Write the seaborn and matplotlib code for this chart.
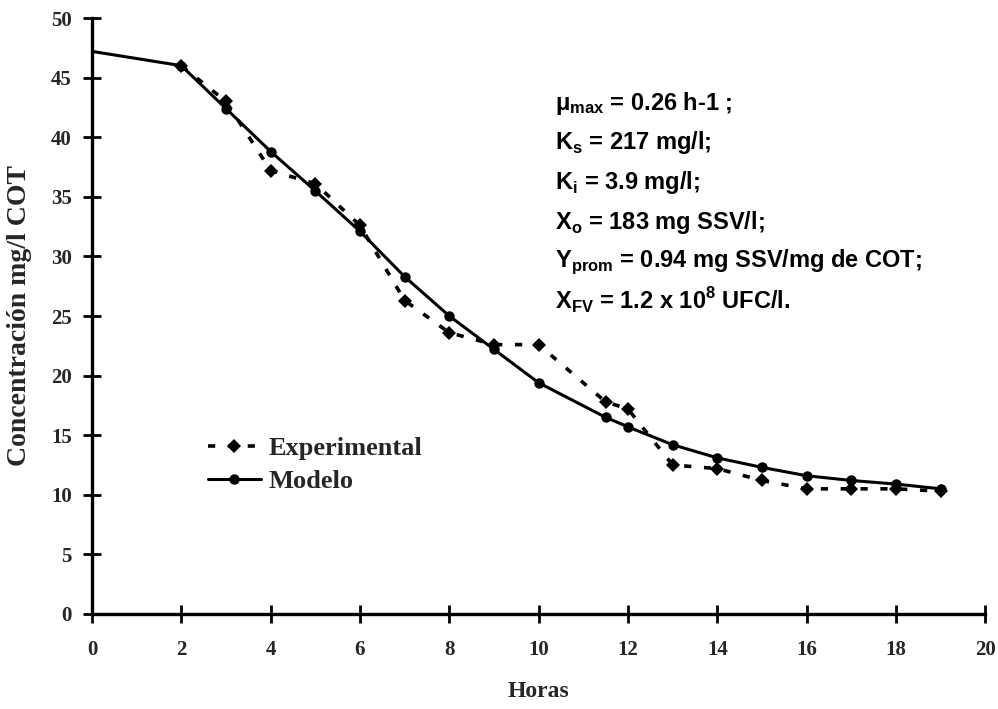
import matplotlib
matplotlib.use("Agg")
import matplotlib.pyplot as plt
import seaborn as sns
import pandas as pd

# ---- data ----
horas_modelo = [0, 2, 3, 4, 5, 6, 7, 8, 9, 10, 11.5, 12, 13, 14, 15, 16, 17, 18, 19]
conc_modelo = [47.2, 46.0, 42.4, 38.8, 35.5, 32.1, 28.3, 25.0, 22.2, 19.4, 16.5, 15.7,
               14.2, 13.1, 12.3, 11.6, 11.2, 10.9, 10.5]
horas_exp = [2, 3, 4, 5, 6, 7, 8, 9, 10, 11.5, 12, 13, 14, 15, 16, 17, 18, 19]
conc_exp = [46.0, 43.0, 37.2, 36.1, 32.6, 26.3, 23.6, 22.6, 22.6, 17.8, 17.2, 12.5,
            12.2, 11.2, 10.5, 10.5, 10.5, 10.3]
xticks = list(range(0, 21, 2))
yticks = list(range(0, 51, 5))
params = [
    r"$\mathregular{\mu_{max}}$ = 0.26 h-1 ;",
    r"K$_{\mathregular{s}}$ = 217 mg/l;",
    r"K$_{\mathregular{i}}$ = 3.9 mg/l;",
    r"X$_{\mathregular{o}}$ = 183 mg SSV/l;",
    r"Y$_{\mathregular{prom}}$ = 0.94 mg SSV/mg de COT;",
    r"X$_{\mathregular{FV}}$ = 1.2 x 10$^{\mathregular{8}}$ UFC/l.",
]

df_mod = pd.DataFrame({"Horas": horas_modelo, "Conc": conc_modelo})
df_exp = pd.DataFrame({"Horas": horas_exp, "Conc": conc_exp})

sns.set_theme(style="white")
plt.rcParams["font.family"] = ["Liberation Serif", "DejaVu Serif"]

fig = plt.figure(figsize=(9.98, 7.09), dpi=100)
ax = fig.add_axes([0.0922, 0.134, 0.895, 0.8406])

sns.lineplot(data=df_exp, x="Horas", y="Conc", ax=ax, color="black",
             linestyle=(0, (2, 3.5)), linewidth=2.6, marker="D", markersize=7.5,
             markeredgewidth=0, label="Experimental", estimator=None, sort=False)
sns.lineplot(data=df_mod, x="Horas", y="Conc", ax=ax, color="black",
             linewidth=2.2, marker="o", markersize=7.5, markeredgewidth=0,
             markevery=list(range(1, len(horas_modelo))),
             label="Modelo", estimator=None, sort=False)

ax.set_xlim(0, 20)
ax.set_ylim(0, 50)
ax.set_xticks(xticks)
ax.set_yticks(yticks)
ax.set_xticklabels([str(t) for t in xticks], fontsize=15, fontweight="bold")
ax.set_yticklabels([str(t) for t in yticks], fontsize=15, fontweight="bold")
ax.tick_params(axis="both", which="major", bottom=True, left=True,
               direction="inout", length=13, width=2, color="black")
ax.tick_params(axis="x", pad=12)
ax.tick_params(axis="y", pad=8)
for s in ["top", "right"]:
    ax.spines[s].set_visible(False)
for s in ["left", "bottom"]:
    ax.spines[s].set_linewidth(2.4)
    ax.spines[s].set_color("black")
ax.spines["bottom"].set_zorder(5)

ax.set_xlabel("Horas", fontsize=17, fontweight="bold", labelpad=15)
ax.set_ylabel("Concentración mg/l COT", fontsize=20, fontweight="bold", labelpad=14)

leg = ax.legend(loc="upper left", bbox_to_anchor=(0.103, 0.337), frameon=False,
                handlelength=2.0, handletextpad=0.3, labelspacing=0.35,
                prop={"family": ["Liberation Serif"], "weight": "bold", "size": 19})

y0 = 0.857
for i, t in enumerate(params):
    ax.text(0.518, y0 - i * 0.0665, t, transform=ax.transAxes, fontsize=17,
            fontweight="bold", family=["Liberation Sans", "DejaVu Sans"],
            va="center", ha="left", color="black")

fig.savefig("out.png", dpi=100, facecolor="white")
